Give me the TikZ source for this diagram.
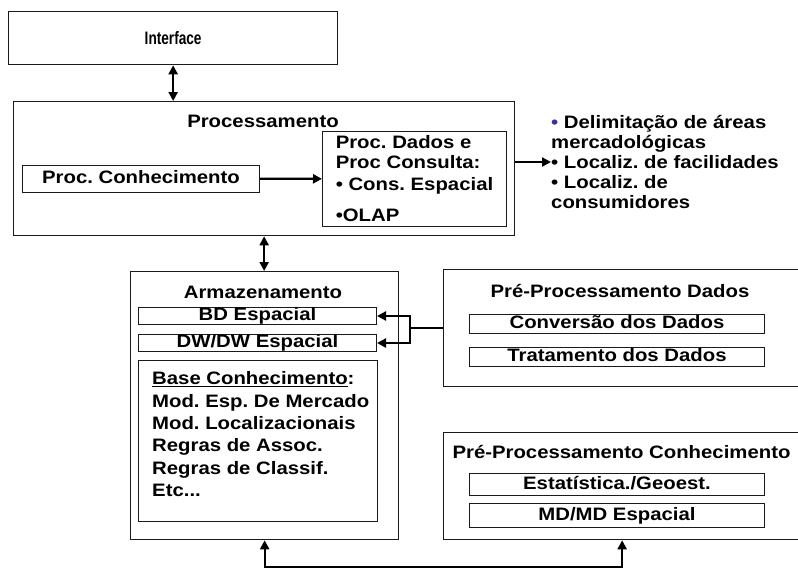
\documentclass[tikz,border=0pt]{standalone}
\usepackage{fontspec}
\setmainfont{Liberation Sans}[FakeStretch=1.13]
\usepackage{xcolor}
\definecolor{ink}{HTML}{1A1A1A}
\definecolor{bulletblue}{HTML}{333399}
\usetikzlibrary{arrows.meta,positioning,calc}
\frenchspacing
\tikzset{
  >={Triangle[length=9pt,width=9pt]},
  frame/.style ={draw=ink,line width=1.3pt,fill=white,anchor=north west,
                 inner sep=0pt},
  box/.style   ={draw=ink,line width=1pt,fill=white,anchor=north west,
                 inner sep=0pt},
  cell/.style  ={box,text height=13pt,text depth=4pt},
  ttl/.style   ={anchor=base,inner sep=0pt},
  flow/.style  ={->,draw=black,line width=2.2pt},
  twoway/.style={<->,draw=black,line width=2.2pt},
  wire/.style  ={draw=black,line width=2.2pt},
}

\begin{document}
\begin{tikzpicture}[x=1pt,y=-1pt,font=\fontsize{18}{20}\selectfont\bfseries]
\useasboundingbox (0,0) rectangle (798,568);
% ---- interface
\node[frame,minimum width=329pt,minimum height=53pt] (iface) at (8,11) {\scalebox{0.67}[1]{Interface}};

% ---- processamento
\node[frame,minimum width=501pt,minimum height=134pt] (proc) at (13,101) {};
\node[ttl] (proctitle) at (263,127.5) {Processamento};
\node[cell,anchor=west,minimum width=237pt,minimum height=27pt] (pconh) at (22,178.5)
 {Proc. Conhecimento};
\node[box,minimum width=184pt,minimum height=95pt,inner xsep=11pt,align=left] (pdados) at (322,131)
 {Proc. Dados e\\Proc Consulta:\\[2pt]• Cons. Espacial\\[11pt]•OLAP};
\node[anchor=west,align=left,inner sep=0pt] (apps) at (551,162)
 {\textcolor{bulletblue}{•} Delimitação de áreas\\mercadológicas\\• Localiz. de facilidades\\
  • Localiz. de\\consumidores};

% ---- armazenamento
\node[frame,minimum width=268pt,minimum height=268pt] (arm) at (130,271) {};
\node[ttl] (armtitle) at (263,298.5) {Armazenamento};
\node[cell,minimum width=238pt,minimum height=17pt] (bd) at (138,307) {BD Espacial};
\node[cell,minimum width=238pt,minimum height=17pt] (dw) at (138,334) {DW/DW Espacial};
\node[box,minimum width=239pt,minimum height=161pt] (base) at (138,360) {};
\node[anchor=north west,align=left,inner sep=0pt,
      font=\fontsize{18}{22.4}\selectfont\bfseries] (basetxt) at (152,371.5)
 {\underline{Base Conhecimento}:\\Mod. Esp. De Mercado\\Mod. Localizacionais\\
  Regras de Assoc.\\Regras de Classif.\\Etc...};

% ---- pre-processamento dados
\node[frame,minimum width=357pt,minimum height=117pt] (pdat) at (443,269) {};
\node[ttl] (pdattitle) at (620,297.5) {Pré-Processamento Dados};
\node[cell,minimum width=295pt,minimum height=19pt] (conv) at (469,314) {Conversão dos Dados};
\node[cell,minimum width=295pt,minimum height=19pt] (trat) at (469,347) {Tratamento dos Dados};

% ---- pre-processamento conhecimento
\node[frame,minimum width=357pt,minimum height=107pt] (pcon) at (443,432) {};
\node[ttl] (pcontitle) at (621.5,458.5) {Pré-Processamento Conhecimento};
\node[cell,minimum width=295pt,minimum height=22pt] (est) at (469,473) {Estatística./Geoest.};
\node[cell,minimum width=295pt,minimum height=24pt] (md) at (469,503) {MD/MD Espacial};

% ---- connectors
\draw[twoway] (iface.south) -- (iface.south |- proc.north);
\draw[flow] (pconh) -- (pdados);
\draw[flow] (proc.east |- apps.west) -- (apps.west);
\draw[twoway] (proc.south) -- (proc.south |- arm.north);
\coordinate (split) at ($(pdat.west)+(-33,0)$);
\draw[wire] (pdat.west) -- (split);
\draw[flow] (split) |- (bd.east);
\draw[flow] (split) |- (dw.east);
\coordinate (bus) at ($(arm.south)!0.5!(pcon.south)+(0,27)$);
\draw[twoway] (arm.south) |- (bus) -| (pcon.south);
\end{tikzpicture}
\end{document}
